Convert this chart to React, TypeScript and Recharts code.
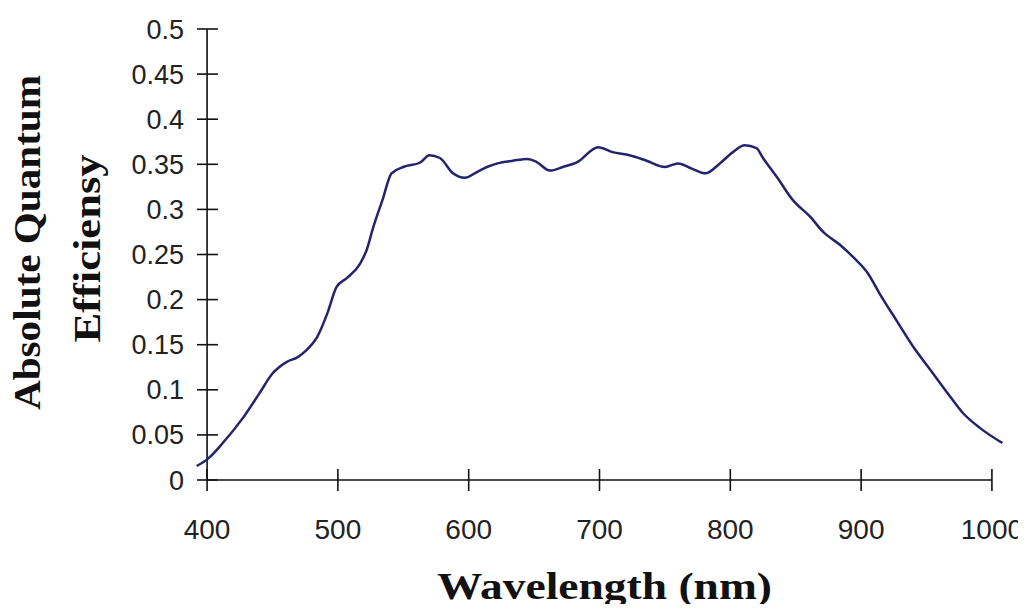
import React from 'react';
import { LineChart, Line, XAxis, YAxis, ReferenceLine, Label } from 'recharts';

// wavelength (nm) and absolute QE
const wavelengths = [
  392, 401, 412, 428, 440, 450, 461, 469, 476, 484,
  492, 499, 507, 517, 522, 527, 534, 541, 550, 563,
  570, 578, 588, 597, 607, 614, 622, 634, 645, 652,
  662, 672, 683, 699, 710, 723, 736, 750, 760, 771,
  781, 792, 802, 811, 820, 825, 836, 848, 861, 871,
  884, 894, 905, 914, 927, 940, 953, 966, 978, 991,
  1008,
];
const efficiency = [
  0.0155, 0.024, 0.041, 0.07, 0.096, 0.118, 0.131, 0.136, 0.144, 0.158,
  0.185, 0.214, 0.224, 0.24, 0.255, 0.28, 0.31, 0.34, 0.347, 0.352,
  0.36, 0.357, 0.34, 0.335, 0.342, 0.347, 0.351, 0.354, 0.356, 0.3525,
  0.343, 0.347, 0.3525, 0.369, 0.3635, 0.36, 0.354, 0.347, 0.351, 0.345,
  0.34, 0.351, 0.3635, 0.371, 0.368, 0.357, 0.335, 0.31, 0.292, 0.275,
  0.2605, 0.247, 0.2295, 0.207, 0.177, 0.1475, 0.122, 0.0965, 0.074, 0.0575,
  0.041,
];
const xTicks = [400, 500, 600, 700, 800, 900, 1000];
const yTicks = [0, 0.05, 0.1, 0.15, 0.2, 0.25, 0.3, 0.35, 0.4, 0.45, 0.5];

const data = wavelengths.map((wl, i) => ({ wl, qe: efficiency[i] }));

const axisColor = '#111';
const titleFont = '"Liberation Serif", "Times New Roman", serif';
const tickFont = '"Liberation Sans", Arial, sans-serif';

const XTitle = (props: any) => {
  const vb = props.viewBox;
  const x = vb.x + vb.width / 2 + 5;
  const y = vb.y + 119;
  return (
    <text x={x} y={y} textAnchor="middle" fontFamily={titleFont} fontWeight="bold"
      fontSize={38} fill="#111" textLength={335} lengthAdjust="spacingAndGlyphs">
      Wavelength (nm)
    </text>
  );
};

const YTitle = (props: any) => {
  const vb = props.viewBox;
  const cy = vb.y + vb.height / 2;
  const x1 = 32, y1 = cy - 12;
  const x2 = 92, y2 = cy - 6;
  return (
    <g fontFamily={titleFont} fontWeight="bold" fontSize={37} fill="#111">
      <text x={x1} y={y1} transform={`rotate(-90, ${x1}, ${y1})`} textAnchor="middle"
        textLength={335} lengthAdjust="spacingAndGlyphs">
        Absolute Quantum
      </text>
      <text x={x2} y={y2} transform={`rotate(-90, ${x2}, ${y2})`} textAnchor="middle"
        textLength={188} lengthAdjust="spacingAndGlyphs">
        Efficiensy
      </text>
    </g>
  );
};

export default function App() {
  return (
    <div style={{ background: '#fff', height: 596 }}>
      <LineChart width={1018} height={604} data={data}
        margin={{ top: 21, right: 21, bottom: 0, left: 0 }}>
        <XAxis dataKey="wl" type="number" domain={[390, 1010]} ticks={xTicks}
          axisLine={false} tickLine={false} tickSize={0} tickMargin={39} height={132}
          tick={{ fontSize: 28, fill: '#222', fontFamily: tickFont }}>
          <Label content={XTitle} />
        </XAxis>
        <YAxis type="number" domain={[0, 0.5]} ticks={yTicks} width={186}
          axisLine={false} tickLine={false} tickSize={0} tickMargin={10}
          tick={{ fontSize: 27, fill: '#222', fontFamily: tickFont }}>
          <Label content={YTitle} />
        </YAxis>

        {/* axis lines sit at 400 nm / 0, the curve runs past them */}
        <ReferenceLine segment={[{ x: 400, y: 0 }, { x: 1000, y: 0 }]} stroke={axisColor} strokeWidth={1.6} ifOverflow="visible" />
        <ReferenceLine segment={[{ x: 400, y: 0 }, { x: 400, y: 0.5 }]} stroke={axisColor} strokeWidth={1.6} ifOverflow="visible" />
        {yTicks.map((v) => (
          <ReferenceLine key={'y' + v} segment={[{ x: 392.3, y: v }, { x: 408.3, y: v }]}
            stroke={axisColor} strokeWidth={1.6} ifOverflow="visible" />
        ))}
        {xTicks.map((v) => (
          <ReferenceLine key={'x' + v} segment={[{ x: v, y: -0.0122 }, { x: v, y: 0.0122 }]}
            stroke={axisColor} strokeWidth={1.6} ifOverflow="visible" />
        ))}

        <Line dataKey="qe" type="monotone" stroke="#24246e" strokeWidth={2.5}
          dot={false} isAnimationActive={false} />
      </LineChart>
    </div>
  );
}
